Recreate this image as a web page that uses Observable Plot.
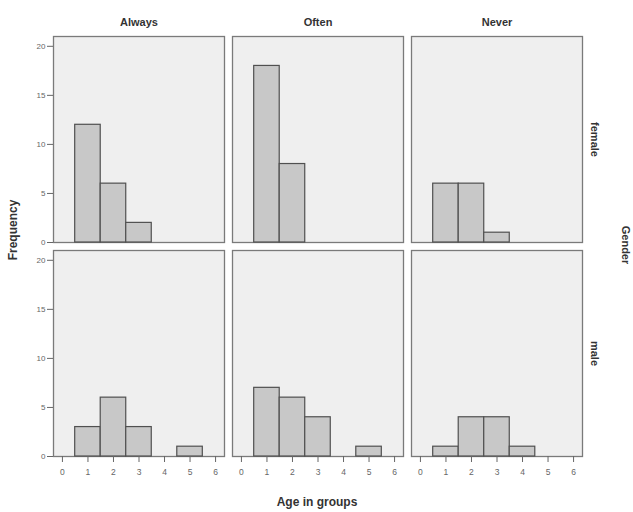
<!DOCTYPE html>
<html>
<head>
<meta charset="utf-8">
<script src="https://cdn.jsdelivr.net/npm/d3@7"></script>
<script src="https://cdn.jsdelivr.net/npm/@observablehq/plot@0.6"></script>
<style>
  html, body { margin: 0; padding: 0; background: #fff; }
</style>
</head>
<body>
<div id="chart"></div>
<script>
const responses = ["Always", "Often", "Never"];
const genders = ["female", "male"];
const ageGroups = [1, 2, 3, 4, 5];
const femaleAlways = [12, 6, 2, 0, 0];
const femaleOften  = [18, 8, 0, 0, 0];
const femaleNever  = [6, 6, 1, 0, 0];
const maleAlways   = [3, 6, 3, 0, 1];
const maleOften    = [7, 6, 4, 0, 1];
const maleNever    = [1, 4, 4, 1, 0];
const xTicks = [0, 1, 2, 3, 4, 5, 6];
const yTicks = [0, 5, 10, 15, 20];

const series = {
  female: { Always: femaleAlways, Often: femaleOften, Never: femaleNever },
  male:   { Always: maleAlways,   Often: maleOften,   Never: maleNever }
};
const table = [];
for (const g of genders) for (const r of responses) {
  ageGroups.forEach((a, i) => {
    const v = series[g][r][i];
    if (v > 0) table.push({ gender: g, response: r, age: a, count: v });
  });
}

const chart = Plot.plot({
  width: 633,
  height: 512,
  marginLeft: 52,
  marginRight: 50,
  marginTop: 36,
  marginBottom: 55,
  style: { background: "#fff", fontFamily: "Liberation Sans, Arial, sans-serif" },
  fx: { domain: responses, paddingInner: 0.045, paddingOuter: 0 },
  fy: { domain: genders, paddingInner: 0.037, paddingOuter: 0 },
  x: { domain: [-0.35, 6.35] },
  y: { domain: [0, 21] },
  marks: [
    Plot.frame({ fill: "#efefef", stroke: "#7a7a7a", strokeWidth: 1.3 }),
    Plot.rectY(table, {
      fx: "response", fy: "gender",
      x1: d => d.age - 0.5, x2: d => d.age + 0.5,
      y1: 0, y2: "count",
      fill: "#c8c8c8", stroke: "#505050", strokeWidth: 1.2
    }),
    Plot.axisY({ anchor: "left", ticks: yTicks, tickSize: 6, tickPadding: 2,
      fontSize: 8, color: "#666", label: null }),
    Plot.axisX({ anchor: "bottom", ticks: xTicks, tickFormat: "d", tickSize: 6, tickPadding: 6,
      fontSize: 8.5, color: "#666", label: null }),
    Plot.axisFx({ anchor: "top", label: null, fontSize: 11, fontWeight: "bold",
      color: "#333", tickSize: 0, tickPadding: 11 }),
    Plot.axisFy({ anchor: "right", label: null, fontSize: 11, fontWeight: "bold",
      color: "#333", tickSize: 0, tickPadding: 16, tickRotate: 90 })
  ]
});

document.getElementById("chart").appendChild(chart);

const svg = d3.select(chart);
svg.append("text")
  .attr("transform", "translate(17,230) rotate(-90)")
  .attr("text-anchor", "middle")
  .attr("font-size", 12).attr("font-weight", "bold").attr("fill", "#333")
  .attr("font-family", "Liberation Sans, Arial, sans-serif")
  .text("Frequency");
svg.append("text")
  .attr("transform", "translate(622,245) rotate(90)")
  .attr("text-anchor", "middle")
  .attr("font-size", 11).attr("font-weight", "bold").attr("fill", "#333")
  .attr("font-family", "Liberation Sans, Arial, sans-serif")
  .text("Gender");
svg.append("text")
  .attr("x", 317).attr("y", 506)
  .attr("text-anchor", "middle")
  .attr("font-size", 12).attr("font-weight", "bold").attr("fill", "#333")
  .attr("font-family", "Liberation Sans, Arial, sans-serif")
  .text("Age in groups");
</script>
</body>
</html>
